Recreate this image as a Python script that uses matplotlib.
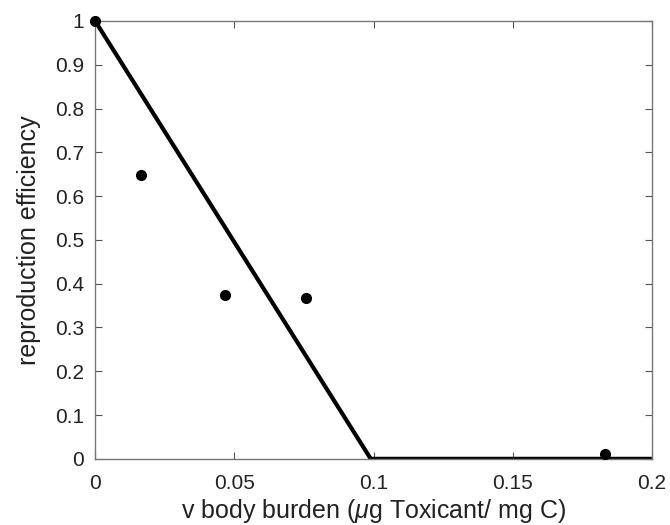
import matplotlib
matplotlib.use("Agg")
import matplotlib.pyplot as plt

plt.rcParams["font.family"] = ["Liberation Sans", "DejaVu Sans"]
plt.rcParams["mathtext.fontset"] = "custom"
plt.rcParams["mathtext.it"] = "Liberation Sans:italic"
plt.rcParams["mathtext.rm"] = "Liberation Sans"

# observed data
burden = [0.0, 0.0165, 0.0467, 0.0758, 0.183]
efficiency = [1.0, 0.648, 0.375, 0.367, 0.012]

# model line
model_x = [0.0, 0.099, 0.2]
model_y = [1.0, 0.0, 0.0]

xticks = [0, 0.05, 0.1, 0.15, 0.2]
xticklabels = ["0", "0.05", "0.1", "0.15", "0.2"]
yticks = [0, 0.1, 0.2, 0.3, 0.4, 0.5, 0.6, 0.7, 0.8, 0.9, 1]
yticklabels = ["0", "0.1", "0.2", "0.3", "0.4", "0.5", "0.6", "0.7", "0.8", "0.9", "1"]

fig = plt.figure(figsize=(6.7, 5.25), dpi=100)
ax = fig.add_axes([0.142, 0.126, 0.831, 0.834])

ax.plot(model_x, model_y, color="black", lw=3, solid_capstyle="butt", zorder=2)
ax.plot(burden, efficiency, "o", color="black", ms=7, zorder=3, clip_on=False)

ax.set_xlim(0, 0.2)
ax.set_ylim(0, 1)
ax.set_xticks(xticks)
ax.set_xticklabels(xticklabels)
ax.set_yticks(yticks)
ax.set_yticklabels(yticklabels)
ax.tick_params(direction="in", top=True, right=True, length=5, width=0.8,
               color="#555555", labelsize=15, labelcolor="#222222")
ax.tick_params(axis="x", pad=11)
ax.tick_params(axis="y", pad=8)
for s in ax.spines.values():
    s.set_color("#777777")
    s.set_linewidth(1.0)

ax.set_xlabel(r"v body burden ($\mu$g Toxicant/ mg C)", fontsize=18, labelpad=3,
              color="#222222")
ax.set_ylabel("reproduction efficiency", fontsize=18, labelpad=10, color="#222222")

fig.savefig("out.png", dpi=100)
